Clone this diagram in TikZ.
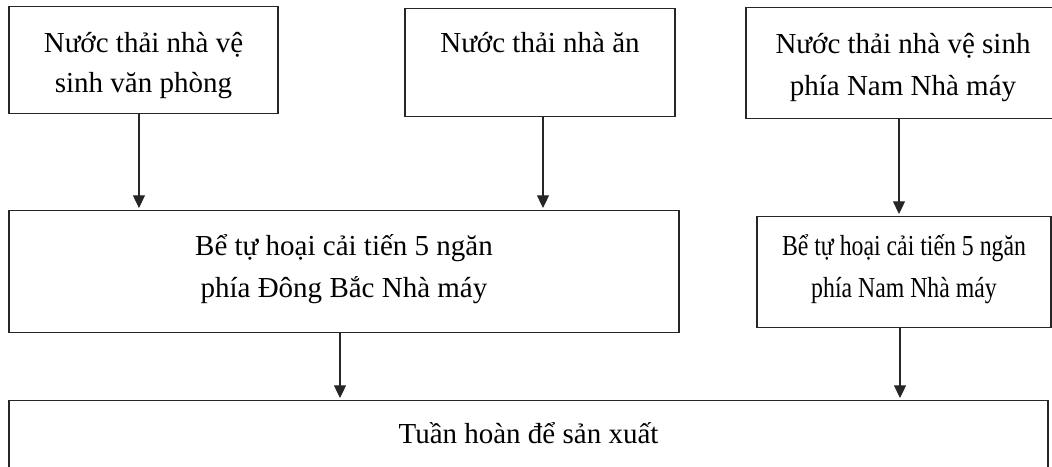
\documentclass[tikz,border=0pt]{standalone}
\usepackage{fontspec}
\setmainfont{Liberation Serif}
\newfontfamily\narrowserif[FakeStretch=0.82]{Liberation Serif}
\usetikzlibrary{arrows.meta}
\newcommand{\upstrut}[1]{\rule{0pt}{#1}}
\newcommand{\downstrut}[1]{\rule[-#1]{0pt}{#1}}

\begin{document}
\begin{tikzpicture}[x=0.75pt,y=0.75pt,yscale=-1,xscale=1,
  box/.style={draw=black!85,line width=0.8pt,inner sep=0pt,align=center,anchor=north,font=\fontsize{21.75}{31.5}\selectfont},
  arr/.style={draw=black!85,line width=0.8pt,-{Triangle[width=9pt,length=9.5pt]},shorten >=1.5pt}]

            % Frame
            \useasboundingbox (0,0) rectangle (1052,467);

            % Sources
            \node[box,font=\fontsize{21.75}{30}\selectfont,minimum width=201.75pt] (wc) at (143.5,6) {\upstrut{34.5pt}Nước thải nhà vệ\\sinh văn phòng\downstrut{15.75pt}};
            \node[box,minimum width=202.5pt,text height=33pt,text depth=48pt] (canteen) at (540,8) {Nước thải nhà ăn};
            \node[box,minimum width=235.5pt] (wcsouth) at (903,7) {\upstrut{34.5pt}Nước thải nhà vệ sinh\\phía Nam Nhà máy\downstrut{17.25pt}};

            % Septic tanks
            \node[box,minimum width=502.5pt] (tanknorth) at (344,210) {\upstrut{33.75pt}Bể tự hoại cải tiến 5 ngăn\\phía Đông Bắc Nhà máy\downstrut{26.25pt}};
            \node[box,font=\narrowserif\fontsize{21.75}{31.5}\selectfont,minimum width=220.5pt] (tanksouth) at (904,216) {\upstrut{29.25pt}Bể tự hoại cải tiến 5 ngăn\\phía Nam Nhà máy\downstrut{22.5pt}};

            % Reuse
            \node[box,minimum width=779.25pt,text height=32.25pt,text depth=42.75pt] (reuse) at (528.5,400) {Tuần hoàn để sản xuất};

            % Arrows
            \draw[arr] ([xshift=-3.4pt]wc.south) -- ([xshift=-3.4pt]wc.south |- tanknorth.north);
            \draw[arr] ([xshift=2.25pt]canteen.south) -- ([xshift=2.25pt]canteen.south |- tanknorth.north);
            \draw[arr] ([xshift=-3pt]wcsouth.south) -- ([xshift=-3pt]wcsouth.south |- tanksouth.north);
            \draw[arr] ([xshift=-3pt]tanknorth.south) -- ([xshift=-3pt]tanknorth.south |- reuse.north);
            \draw[arr] ([xshift=-3pt]tanksouth.south) -- ([xshift=-3pt]tanksouth.south |- reuse.north);

\end{tikzpicture}
\end{document}
